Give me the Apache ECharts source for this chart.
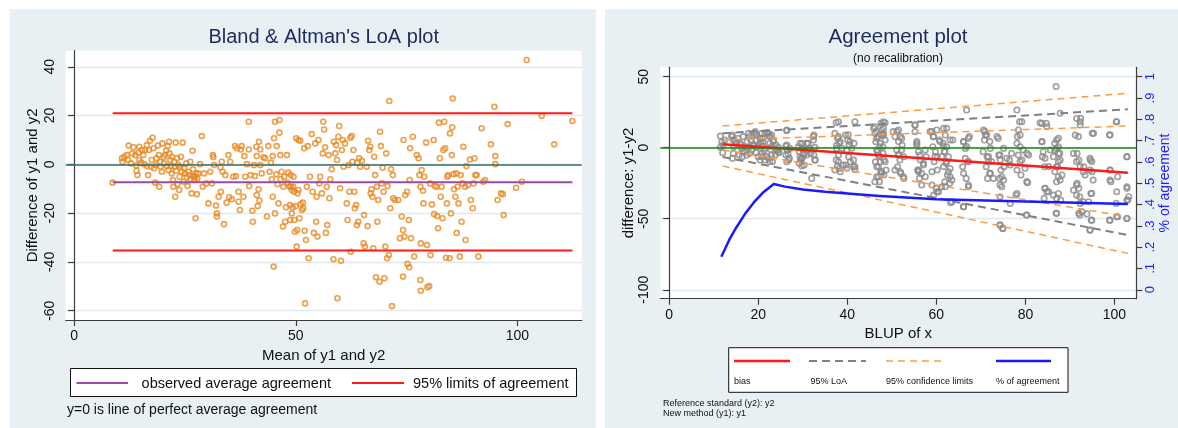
<!DOCTYPE html>
<html>
<head>
<meta charset="utf-8">
<script src="https://cdn.jsdelivr.net/npm/echarts@6.0.0/dist/echarts.min.js"></script>
<style>
  html, body { margin: 0; padding: 0; background: #fff; }
  #chart { width: 1178px; height: 428px; }
</style>
</head>
<body>
<div id="chart"></div>
<script>
/* === Data: Bland & Altman (mean of y1,y2 vs difference) === */
const baMean = [
  8.7, 10.8, 10.9, 11.3, 11.9, 12.2, 12.3, 12.8, 13.1, 13.4, 13.8, 14.0, 14.1, 14.3, 14.5, 14.7, 14.7, 15.1, 15.3, 15.6,
  15.8, 16.0, 16.4, 16.4, 16.7, 16.9, 17.1, 17.3, 17.5, 17.7, 17.9, 18.0, 18.3, 18.5, 18.6, 18.9, 19.1, 19.2, 19.4, 19.5,
  19.8, 19.9, 20.2, 20.3, 20.5, 20.8, 20.9, 21.1, 21.3, 21.4, 21.5, 21.7, 21.8, 22.0, 22.1, 22.3, 22.4, 22.6, 22.7, 22.8,
  22.9, 23.0, 23.2, 23.3, 23.5, 23.7, 23.8, 23.9, 24.1, 24.3, 24.5, 24.7, 24.8, 25.0, 25.3, 25.4, 25.6, 25.8, 26.0, 26.2,
  26.3, 26.5, 26.7, 26.8, 26.9, 27.1, 27.3, 27.4, 27.5, 27.7, 27.8, 28.0, 28.4, 28.8, 29.0, 29.3, 29.8, 30.3, 30.7, 31.1,
  31.3, 31.4, 31.6, 32.0, 32.2, 32.2, 32.6, 33.0, 33.1, 33.3, 33.5, 33.8, 34.1, 34.4, 34.8, 35.0, 35.2, 35.6, 35.9, 36.3,
  36.5, 36.7, 37.1, 37.1, 37.4, 37.6, 37.8, 38.2, 38.4, 38.6, 39.0, 39.4, 39.4, 39.5, 39.8, 40.2, 40.3, 40.6, 40.8, 41.1,
  41.2, 41.2, 41.4, 41.6, 41.7, 41.8, 42.0, 42.0, 42.3, 42.7, 43.1, 43.5, 43.8, 44.1, 44.4, 44.6, 44.8, 44.8, 45.0, 45.1,
  45.3, 45.3, 45.6, 45.7, 45.9, 46.1, 46.3, 46.3, 46.5, 46.6, 46.8, 47.1, 47.2, 47.4, 47.6, 47.8, 48.0, 48.1, 48.3, 48.6,
  48.7, 48.9, 49.1, 49.3, 49.5, 49.7, 49.8, 50.1, 50.2, 50.6, 48.7, 49.1, 50.0, 50.3, 50.4, 50.6, 50.8, 51.0, 51.1, 51.4,
  51.6, 51.7, 51.9, 52.0, 52.1, 52.3, 52.5, 52.7, 52.9, 53.2, 53.6, 53.8, 54.1, 54.4, 54.6, 54.7, 54.9, 55.1, 55.3, 55.5,
  55.9, 56.1, 56.2, 56.4, 56.6, 56.8, 57.0, 57.1, 57.4, 57.6, 57.8, 58.1, 58.5, 58.6, 58.9, 59.1, 59.3, 59.4, 59.6, 59.8,
  60.0, 60.2, 60.4, 60.6, 60.8, 61.1, 61.5, 61.7, 61.9, 62.1, 62.3, 62.4, 62.6, 62.8, 63.0, 63.2, 63.3, 63.6, 63.8, 63.9,
  64.1, 64.3, 64.5, 64.9, 65.3, 65.4, 65.6, 66.0, 66.2, 66.3, 66.6, 66.8, 66.9, 67.1, 67.3, 67.5, 67.7, 67.9, 68.1, 68.3,
  68.4, 68.6, 68.9, 69.0, 69.2, 69.4, 69.6, 69.8, 70.0, 70.2, 70.4, 70.6, 70.7, 71.0, 71.1, 71.3, 71.5, 71.7, 71.9, 72.0,
  72.4, 73.1, 73.5, 73.9, 74.2, 74.2, 74.3, 74.5, 74.7, 75.1, 75.2, 75.5, 75.6, 75.7, 75.8, 76.0, 76.4, 76.7, 77.3, 77.7,
  77.9, 78.1, 78.2, 78.1, 78.2, 78.4, 78.7, 78.8, 79.0, 79.4, 79.6, 79.7, 80.1, 80.3, 80.4, 80.7, 81.1, 81.2, 81.4, 81.8,
  81.9, 82.1, 82.3, 82.5, 82.7, 82.9, 83.1, 83.3, 83.5, 83.7, 83.9, 84.1, 84.2, 84.4, 84.7, 84.8, 85.0, 85.2, 85.3, 85.4,
  85.6, 85.7, 86.0, 86.2, 86.3, 86.5, 86.7, 87.0, 87.2, 87.4, 87.6, 87.8, 88.2, 88.3, 88.5, 88.9, 89.3, 89.5, 89.9, 90.1,
  90.3, 90.5, 90.8, 91.2, 91.9, 92.3, 92.7, 94.0, 94.8, 95.0, 95.0, 95.5, 96.3, 96.7, 96.9, 97.8, 99.7, 101.0, 102.1, 105.5,
  108.3, 112.4, 48.9, 49.4, 49.6
];
const baDiff = [
  -7.5, 2.5, 1.1, 3.1, 3.8, 1.8, 7.7, 0.4, 4.5, 7.0, 3.8, -0.5, -2.6, -4.4, 4.8, 1.8, 7.2, 0.7, 5.9, 3.8,
  0.1, 5.9, 7.9, -0.7, -4.4, 5.9, 9.7, -1.0, 1.8, 10.9, 6.6, -1.6, -7.5, -0.3, 2.5, 7.7, 3.8, -9.2, 1.1, -1.0,
  -3.0, 8.6, 2.9, 0.4, 3.8, 5.6, -0.7, 7.5, -2.3, 9.3, 4.5, 1.8, -0.7, -3.7, 3.1, -6.4, -9.2, 1.1, -1.0, -13.3,
  8.9, -2.6, 2.5, -8.1, -0.3, -10.5, -5.1, -1.0, 3.1, -3.0, 8.9, -7.1, -1.6, -3.7, 0.4, -5.3, -8.9, -3.0, -4.4, 1.1,
  -6.1, -11.9, 5.6, -2.0, -4.8, -6.1, -5.1, -22.1, -3.7, -12.2, -5.7, -3.7, 0.1, 11.6, -9.2, -3.7, -7.8, -16.0, -3.0, -7.8,
  3.8, 2.9, -0.3, -16.9, -20.1, -21.4, -13.3, -1.2, -11.2, 1.1, -3.0, -24.5, -4.4, -15.7, 3.8, -13.5, 1.1, -14.3, -5.1, 7.5,
  -4.8, 6.6, -15.3, -11.2, -18.7, 6.1, 7.5, -13.3, 3.4, -5.1, 0.1, 6.1, 17.5, -8.9, -4.4, -19.0, -23.5, -0.3, -4.8, 7.2,
  3.4, -12.6, -17.1, -10.2, 9.3, -14.8, 6.1, -0.3, -3.7, 2.9, 2.5, -21.4, 7.5, -3.0, 0.7, -6.1, 3.4, -13.3, -41.9, 10.7,
  17.5, -20.1, -4.1, 7.5, -8.1, -16.0, 18.2, 13.0, 3.8, -6.1, -3.0, -25.5, -9.2, -5.1, -23.5, -17.6, 3.8, -7.5, -3.4, -9.2,
  -22.8, -4.4, -10.5, -17.6, -5.1, -22.8, -27.6, 10.7, -33.7, 10.0, -16.7, -20.1, -17.1, -26.9, -11.9, -10.5, -22.1, 9.7, -16.3, -18.7,
  -15.7, -18.0, 6.6, -27.2, -57.0, -31.0, -9.2, 7.5, -38.5, -5.1, 12.4, -11.2, -28.1, 8.6, -23.5, -13.3, -29.6, 10.0, -7.8, -5.1,
  -11.9, 4.5, 17.5, 14.3, 7.0, -28.1, -9.2, -24.9, 3.8, -13.9, -6.1, -2.0, -38.9, 9.3, 4.5, 7.9, 1.8, -54.9, 11.3, 15.7,
  -9.8, -39.5, 5.9, 10.0, -1.0, 8.6, -16.0, -22.8, -0.3, -11.2, 10.9, -35.8, 11.6, 1.1, 5.9, -11.2, -18.0, -16.7, -24.9, 0.7,
  -23.5, 2.5, -1.0, 1.5, -32.4, -20.8, -33.7, -1.0, -25.3, 9.7, 5.9, 7.2, -11.9, -10.2, -13.3, -34.4, 3.1, -4.4, -46.3, -9.2,
  -23.5, -14.6, -48.1, 13.4, 7.5, -7.8, -1.4, -11.2, -46.7, -33.7, 4.5, -38.5, -8.9, -37.2, 26.0, -18.0, -2.0, -58.1, -4.4, -13.9,
  -14.6, -14.6, -30.3, -21.4, -26.9, -46.0, 10.0, -29.6, -12.6, -11.2, -40.8, -22.8, -42.2, -6.4, 6.6, -30.3, 11.3, -37.8, 3.8, 2.5,
  -4.4, -9.2, -32.4, -47.4, -51.8, -2.3, -10.8, -16.0, -5.1, 8.9, -33.1, -50.4, -49.9, -7.8, -37.2, -16.4, 10.0, -20.4, -8.9, -9.2,
  -21.2, -26.2, 17.1, 2.5, -13.3, -9.2, -22.1, 5.9, 17.5, 6.6, -38.3, -16.0, -5.1, -4.4, -38.5, 12.7, -20.1, 3.8, 15.2, 27.0,
  -4.0, -10.2, -13.3, -3.7, -28.1, -9.2, -16.0, -37.8, -4.4, -23.5, -7.8, 7.2, -9.2, -31.0, -0.7, -8.5, 2.0, -14.6, -18.0, -7.8,
  2.5, -4.4, -4.4, -37.8, 14.8, -7.1, -6.4, 8.2, 23.6, 3.4, 0.1, -14.6, -11.9, -12.2, -20.8, 16.5, -9.6, -7.1, 42.8, 19.9,
  8.2, 17.8, -9.2, -9.2, -11.2
];
const baAvgDiff = -7.3;
const baLimits = [21.0, -35.3];
const baXTicks = [0, 50, 100];
const baYTicks = [-60, -40, -20, 0, 20, 40];

/* === Data: Agreement plot (BLUP of x vs difference y1-y2) === */
const blupX = [
  11.5, 11.8, 11.5, 12.1, 12.0, 12.5, 14.2, 14.4, 14.5, 14.4, 14.2, 15.0, 15.9, 16.3, 15.7, 16.6, 16.5, 17.5, 17.8, 18.0,
  17.4, 18.1, 19.3, 19.6, 19.0, 19.8, 19.5, 20.0, 20.8, 21.0, 21.1, 21.3, 20.8, 21.5, 20.5, 22.0, 22.5, 22.6, 22.8, 23.0,
  23.2, 22.3, 23.0, 23.4, 24.0, 24.3, 24.5, 24.7, 26.4, 26.2, 26.5, 26.7, 27.0, 26.4, 27.1, 29.0, 29.2, 29.4, 29.5, 29.8,
  29.9, 30.1, 30.3, 29.8, 29.2, 31.2, 31.6, 31.8, 32.0, 32.4, 32.5, 32.7, 32.7, 37.5, 38.0, 37.2, 37.8, 38.2, 37.6, 38.0,
  37.5, 37.8, 38.2, 38.4, 37.2, 39.6, 40.1, 40.4, 39.9, 40.3, 40.7, 39.7, 41.4, 41.7, 41.5, 41.7, 46.2, 46.6, 47.0, 46.4,
  47.3, 46.8, 47.2, 46.3, 47.0, 47.5, 46.6, 47.2, 48.1, 48.5, 48.0, 48.5, 48.2, 48.7, 48.5, 47.7, 48.1, 48.0, 48.2, 47.7,
  47.6, 50.3, 50.7, 51.1, 51.5, 51.8, 51.3, 52.2, 52.3, 52.0, 52.7, 51.5, 52.7, 50.7, 55.2, 55.6, 56.0, 56.4, 55.8, 56.7,
  56.2, 57.1, 57.5, 57.7, 59.0, 59.4, 59.2, 59.8, 60.2, 59.5, 60.0, 60.5, 60.2, 60.7, 59.4, 61.6, 62.0, 61.5, 62.3, 61.8,
  62.7, 62.2, 63.1, 62.5, 63.5, 63.0, 63.2, 63.7, 62.0, 66.1, 66.5, 66.8, 67.0, 65.9, 66.7, 67.2, 66.1, 67.4, 70.6, 71.0,
  70.8, 70.5, 71.4, 71.7, 71.2, 71.5, 72.1, 72.1, 73.6, 74.0, 74.3, 74.5, 74.2, 74.7, 74.3, 74.3, 74.9, 75.1, 75.2, 76.6,
  76.4, 76.9, 78.1, 78.7, 78.2, 78.8, 78.4, 79.2, 78.1, 79.0, 77.9, 80.2, 80.3, 80.5, 83.3, 83.7, 83.8, 84.3, 84.4, 84.8,
  84.8, 84.2, 85.6, 86.9, 87.0, 87.4, 87.7, 87.8, 87.2, 88.2, 87.8, 87.4, 86.9, 87.8, 86.6, 87.9, 91.2, 91.6, 92.0, 92.3,
  92.4, 91.6, 92.0, 92.2, 92.3, 92.7, 92.2, 93.1, 93.4, 93.8, 94.8, 95.0, 94.6, 95.0, 95.2, 94.7, 94.5, 94.2, 98.9, 99.0,
  99.2, 98.9, 100.4, 100.7, 100.4, 100.7, 102.8, 102.8, 103.0, 102.8, 103.2,
  14.0, 14.8, 15.5, 16.2, 17.0, 16.4, 17.8, 18.3, 18.9, 18.5, 19.6, 20.4, 21.1, 20.0, 21.5, 20.8, 20.4, 21.9, 19.3, 21.5,
  22.6, 23.4, 23.0, 24.1, 23.8, 24.5, 22.6, 22.3, 26.4, 26.5, 26.2, 26.8, 26.4, 29.4, 29.8, 30.2, 29.8, 30.3, 30.9, 31.3,
  30.9, 32.4, 32.5, 32.8, 38.0, 38.4, 37.6, 38.8, 38.0, 39.1, 39.9, 40.6, 41.0, 41.4, 40.2, 41.7, 45.9, 46.2, 46.6, 47.4,
  47.7, 48.1, 46.6, 47.0, 47.4, 46.6, 47.7, 47.0, 46.2, 48.1, 51.1, 51.9, 51.5, 52.2, 51.5, 51.9, 52.6, 55.2, 55.6, 56.0,
  55.2, 55.6, 56.3, 56.0, 57.1, 57.5, 56.7, 58.6, 59.3, 60.1, 60.8, 61.6, 61.9, 61.2, 62.3, 61.6, 62.7, 63.1, 61.9, 61.2,
  60.1, 59.0, 62.3, 63.1, 63.5, 59.7, 59.0, 66.1, 66.8, 67.2, 66.5, 67.2, 66.1, 67.2, 66.1, 70.9, 71.3, 72.0, 71.7, 72.4,
  72.0, 72.8, 73.9, 74.3, 74.7, 74.3, 75.1, 74.3, 74.9, 75.8, 76.6, 78.4, 78.8, 79.2, 78.1, 79.5, 80.7, 78.8, 79.9, 80.3,
  78.1, 80.3, 83.7, 84.0, 84.4, 85.2, 84.4, 85.2, 86.3, 87.0, 86.6, 87.0, 87.4, 86.3, 87.4, 87.0, 86.6, 87.4, 87.0, 87.4,
  87.0, 84.7, 83.7, 91.5, 92.3, 91.9, 90.8, 91.5, 92.3, 93.0, 94.5, 94.9, 94.5, 91.5, 90.8, 91.5, 93.0, 92.0, 94.9, 94.9,
  94.5, 95.3, 99.0, 100.5, 99.0, 99.0, 99.0, 100.5, 100.5, 102.8, 102.8, 102.8, 102.8
];
const agDiff = [
  8.2, 4.2, 0.3, 1.9, -3.5, 5.4, 8.9, 5.4, 0.7, -4.0, -7.5, 3.1, 3.1, -0.5, -5.2, 7.8, -2.8, 4.2, 0.3, 7.8,
  -5.2, -4.0, 11.3, 5.4, 1.2, 0.3, -3.5, -6.4, 10.1, 6.6, 1.2, -2.1, -6.4, -8.7, 4.2, 10.6, 8.2, 3.1, -1.2, -5.2,
  -9.9, -7.5, 8.9, 5.4, 1.9, -1.6, 0.3, -3.5, 12.0, 1.2, -1.6, -4.5, -7.5, -9.9, -0.5, 0.7, -2.8, -6.4, -8.7, -12.9,
  3.1, -1.2, -4.5, -7.5, -11.0, 3.1, -0.5, -4.0, -21.6, 5.4, 8.9, 0.3, -8.7, 17.6, 18.3, 10.1, 6.6, 3.1, -0.5, -5.2,
  -8.7, -12.9, -14.6, -16.9, -15.7, 8.9, 5.4, 1.9, -1.6, -6.4, -9.9, -12.2, -13.4, 18.3, 3.1, -15.3, 14.8, 11.3, 7.8, 4.2,
  0.7, -2.8, -6.4, -9.9, -13.4, -16.9, -20.4, -23.9, 10.1, 5.4, -4.0, -9.9, -19.2, -15.7, 17.6, 12.4, 8.9, 0.7, -8.7, -18.1,
  17.1, 11.3, 7.8, -1.6, -5.2, -8.7, -13.4, 6.6, 1.9, -18.1, -21.6, 12.4, -6.4, -15.7, 16.0, 3.1, -2.8, -8.7, -15.7, -18.1,
  -21.6, -11.0, -1.6, -6.4, 11.3, 7.8, 0.7, -2.8, -6.4, -9.9, -28.6, -31.0, -15.7, 5.4, -33.3, 13.6, 8.9, 3.1, 0.7, -2.8,
  -6.4, -11.0, -14.6, -19.2, -22.8, -25.1, -38.7, 5.4, -27.5, 4.2, -0.5, 26.5, -9.9, -13.4, -21.6, -27.5, -41.6, 7.8, 12.4, 8.9,
  5.4, -2.8, -6.4, -9.9, -13.4, -21.6, -18.1, -0.5, 7.8, -5.2, -8.7, -15.7, -21.6, -27.5, -34.5, -54.5, -56.8, -0.5, -13.4, -39.2,
  -8.7, -4.0, 26.5, 18.3, 7.8, 0.7, -5.2, -8.7, -15.7, -19.2, -33.3, -47.4, -4.0, -24.6, 17.6, 4.2, -6.4, -13.4, -28.6, -31.0,
  14.8, -35.7, -1.6, 43.0, 5.4, 0.7, -4.0, -8.7, -13.4, -19.2, -22.8, -32.2, -46.2, 24.2, -1.6, -36.9, 8.9, -4.0, -8.7, 16.0,
  20.7, -25.1, -28.6, -34.5, -39.2, -45.1, -47.4, -13.4, -19.2, -46.6, -51.1, 10.1, -8.7, -16.9, -22.8, -32.2, -58.0, -38.0, 8.9, -15.7,
  -23.9, -51.1, 18.3, -20.4, -39.2, -48.6, -6.4, -27.5, -36.9, -49.8, -34.5,
  7.8, 4.3, 6.6, 1.9, -2.8, -6.3, 10.1, 5.4, 1.9, -1.6, 8.9, 6.6, 4.3, 1.9, -0.4, -4.0, -8.7, -6.3, 10.1, 10.1,
  7.8, 4.3, 0.8, -1.6, -5.1, -2.8, -9.8, 10.1, 1.9, -1.6, -5.1, -8.7, 12.5, 3.1, -0.4, -4.0, -7.5, -12.2, 3.1, -1.6,
  -5.1, 7.8, -5.1, -8.7, 7.8, 4.3, 1.9, -0.4, -9.8, -12.2, -14.5, 4.3, -0.4, -8.7, 9.0, -13.3, 13.7, 10.1, 6.6, 3.1,
  9.0, 13.7, -1.6, -5.1, -9.8, -13.3, -16.9, -20.4, -24.0, 18.3, 11.3, 7.8, 4.3, -1.6, -5.1, -16.9, -20.4, 11.3, 4.3, -15.7,
  15.9, 1.9, -5.1, -16.9, -12.2, -20.4, -26.3, 11.3, 7.8, 12.5, 4.3, 0.8, -2.8, -6.3, -9.8, -13.3, -16.9, -20.4, -24.0, -27.5,
  -31.0, -26.3, 13.7, 5.4, -38.0, -6.3, -16.9, 4.3, 0.8, 6.6, -7.5, -9.8, -18.0, -26.3, -41.5, 11.3, 9.0, 4.3, -6.3, -9.8,
  -18.0, -21.6, 6.6, -5.1, -20.4, -26.3, -22.8, -54.5, -56.8, -7.5, -12.2, 12.5, 9.0, 18.3, 3.1, -1.6, -5.1, -9.8, -14.5, -23.9,
  -32.2, -47.4, 4.3, -2.8, -7.5, -13.3, -28.6, -31.0, -33.4, -35.7, 3.1, -0.4, -4.0, -6.3, -9.8, -13.3, -16.9, -20.4, -24.0, 6.6,
  -46.2, 17.1, 17.1, 20.6, 18.3, 7.8, -4.0, -9.8, -13.3, -16.9, -7.5, -9.8, -15.7, -26.3, -29.8, -33.4, -38.0, -46.2, -32.2, -51.0,
  -58.0, 10.1, 9.0, 18.3, -15.7, -22.8, -51.0, -31.0, -48.6, -6.3, -28.6, -36.9, -49.8
];
// straight reference lines, read at both ends of the BLUP range
const fitX = [12, 103];
const biasY = [2.5, -17.6];
const loaUpY = [10.1, 27.0];
const loaLowY = [-6.5, -61.5];
const ciUpOuterY = [15.3, 38.3];
const ciUpInnerY = [5.4, 15.3];
const ciLowInnerY = [-1.5, -48.6];
const ciLowOuterY = [-12.9, -74.4];
// % of agreement curve (right axis)
const pctX = [11.7, 12.5, 13.5, 15, 17, 19, 21, 23.5, 26, 30, 35, 40, 47.3, 60, 80, 103];
const pctY = [0.155, 0.19, 0.235, 0.29, 0.355, 0.41, 0.455, 0.496, 0.484, 0.471, 0.46, 0.452, 0.44, 0.425, 0.414, 0.403];
const agXTicks = [0, 20, 40, 60, 80, 100];
const agYTicks = [-100, -50, 0, 50];
const pctTicks = [0, .1, .2, .3, .4, .5, .6, .7, .8, .9, 1];

/* === Style === */
const FONT = "'Liberation Sans', Arial, sans-serif";
const PANEL = '#e8f0f3';
const GRIDLINE = '#e0eaee';
const AXIS = '#3c3c3c';
const NAVY = '#1c2a5c';

const zip = (xs, ys) => xs.map((x, i) => [x, ys[i]]);

function yAxisBase(extra) {
  return Object.assign({
    type: 'value',
    axisLine: { show: true, lineStyle: { color: AXIS, width: 1.2 } },
    axisTick: { show: true, length: 6, lineStyle: { color: AXIS, width: 1.2 } },
    splitLine: { show: true, lineStyle: { color: GRIDLINE, width: 1.3 } },
    axisLabel: { color: '#111', fontSize: 14, fontFamily: FONT, rotate: 90, margin: 9 },
    nameLocation: 'middle',
    nameTextStyle: { color: '#111', fontSize: 15, fontFamily: FONT }
  }, extra);
}
function xAxisBase(extra) {
  return Object.assign({
    type: 'value',
    axisLine: { show: true, onZero: false, lineStyle: { color: AXIS, width: 1.2 } },
    axisTick: { show: true, length: 6, lineStyle: { color: AXIS, width: 1.2 } },
    splitLine: { show: false },
    axisLabel: { color: '#111', fontSize: 14, fontFamily: FONT, margin: 9 },
    nameLocation: 'middle',
    nameTextStyle: { color: '#111', fontSize: 15, fontFamily: FONT }
  }, extra);
}
function fitLine(name, ys, color, width, dash) {
  return {
    name, type: 'line', xAxisIndex: 1, yAxisIndex: 1,
    data: zip(fitX, ys), symbol: 'none', silent: true, z: 4,
    lineStyle: { color, width, type: dash || 'solid' }
  };
}
const txt = (text, x, y, size, fill, align, extra) => Object.assign({
  type: 'text', x, y, silent: true,
  style: { text, font: `${size}px ${FONT}`, fill, align: align || 'left', verticalAlign: 'middle' }
}, extra || {});
const seg = (x1, x2, y, stroke, width, dash) => ({
  type: 'line', silent: true, shape: { x1, y1: y, x2, y2: y },
  style: { stroke, lineWidth: width, lineDash: dash || null }
});

const baXmin = Math.min(...baMean), baXmax = Math.max(...baMean);

const chart = echarts.init(document.getElementById('chart'));
chart.setOption({
  animation: false,
  backgroundColor: '#fff',
  graphic: [
    // panel backgrounds
    { type: 'rect', z: -10, silent: true, shape: { x: 9.5, y: 9.3, width: 586.5, height: 430 }, style: { fill: PANEL } },
    { type: 'rect', z: -10, silent: true, shape: { x: 605, y: 9.3, width: 580, height: 430 }, style: { fill: PANEL } },
    // titles
    txt("Bland & Altman's LoA plot", 323.7, 37, 20, NAVY, 'center'),
    txt('Agreement plot', 898, 37, 20.5, NAVY, 'center'),
    txt('(no recalibration)', 898, 58.5, 12, '#111', 'center'),
    // left legend
    { type: 'rect', silent: true, shape: { x: 70.5, y: 368.5, width: 506, height: 28 }, style: { fill: '#fff', stroke: '#111', lineWidth: 1 } },
    seg(76.5, 128, 383, '#9b4aa8', 2),
    txt('observed average agreement', 141.6, 383.5, 14.5, '#111'),
    seg(352, 404, 383, '#ff1a1a', 2),
    txt('95% limits of agreement', 413, 383.5, 14.5, '#111'),
    txt('y=0 is line of perfect average agreement', 67, 410.5, 14, '#111'),
    // right legend
    { type: 'rect', silent: true, shape: { x: 728.7, y: 347.7, width: 339.3, height: 44.6 }, style: { fill: '#fff', stroke: '#111', lineWidth: 1 } },
    seg(734, 790, 361, '#ff1a1a', 2.5),
    seg(809, 866, 361, '#808080', 2, [8, 5]),
    seg(886, 942.5, 361, '#ff9a40', 1.6, [7, 5]),
    seg(996, 1051, 361, '#1a1aff', 2.5),
    txt('bias', 734, 382, 9, '#111'),
    txt('95% LoA', 810.5, 382, 9, '#111'),
    txt('95% confidence limits', 886, 382, 9, '#111'),
    txt('% of agreement', 996, 382, 9, '#111'),
    txt('Reference standard (y2): y2', 663, 404, 9, '#111'),
    txt('New method (y1): y1', 663, 413.3, 9, '#111')
  ],
  grid: [
    { left: 65.7, top: 50.7, width: 516, height: 269.3, show: true, backgroundColor: '#fff', borderWidth: 0 },
    { left: 660.3, top: 67.3, width: 476, height: 231.4, show: true, backgroundColor: '#fff', borderWidth: 0 }
  ],
  xAxis: [
    xAxisBase({
      gridIndex: 0, min: -1.9, max: 114.5,
      axisTick: { show: true, length: 6, customValues: baXTicks, lineStyle: { color: AXIS, width: 1.2 } },
      axisLabel: { color: '#111', fontSize: 14, fontFamily: FONT, margin: 9, customValues: baXTicks },
      name: 'Mean of y1 and y2', nameGap: 24
    }),
    xAxisBase({
      gridIndex: 1, min: -2, max: 104.9,
      axisTick: { show: true, length: 6, customValues: agXTicks, lineStyle: { color: AXIS, width: 1.2 } },
      axisLabel: { color: '#111', fontSize: 14, fontFamily: FONT, margin: 9, customValues: agXTicks },
      name: 'BLUP of x', nameGap: 25
    })
  ],
  yAxis: [
    yAxisBase({
      gridIndex: 0, min: -63.8, max: 46.6,
      axisTick: { show: true, length: 6, customValues: baYTicks, lineStyle: { color: AXIS, width: 1.2 } },
      axisLabel: { color: '#111', fontSize: 14, fontFamily: FONT, rotate: 90, margin: 9, customValues: baYTicks },
      name: 'Difference of y1 and y2', nameGap: 25
    }),
    yAxisBase({
      gridIndex: 1, min: -106.3, max: 56.6,
      axisTick: { show: true, length: 6, customValues: agYTicks, lineStyle: { color: AXIS, width: 1.2 } },
      axisLabel: { color: '#111', fontSize: 14, fontFamily: FONT, rotate: 90, margin: 9, customValues: agYTicks },
      name: 'difference: y1-y2', nameGap: 21
    }),
    yAxisBase({
      gridIndex: 1, position: 'right', min: -0.042, max: 1.044,
      splitLine: { show: false },
      axisTick: { show: true, length: 6, customValues: pctTicks, lineStyle: { color: AXIS, width: 1.2 } },
      axisLabel: {
        color: '#2020ff', fontSize: 13, fontFamily: FONT, rotate: 90, margin: 8, customValues: pctTicks,
        formatter: v => (v === 0 || v === 1) ? String(v) : String(+v.toFixed(1)).replace(/^0/, '')
      },
      name: '% of agreement', nameGap: 22,
      nameTextStyle: { color: '#2020ff', fontSize: 14, fontFamily: FONT }
    })
  ],
  series: [
    {
      name: 'Bland-Altman', type: 'scatter', xAxisIndex: 0, yAxisIndex: 0,
      data: zip(baMean, baDiff), symbol: 'circle', symbolSize: 5, silent: true,
      itemStyle: { color: 'rgba(0,0,0,0)', borderColor: '#e8871e', borderWidth: 1.6 },
      markLine: {
        silent: true, symbol: 'none', label: { show: false },
        lineStyle: { color: '#2f6f6a', width: 1.6, type: 'solid' },
        data: [{ yAxis: 0 }]
      }
    },
    {
      name: 'observed average agreement', type: 'line', xAxisIndex: 0, yAxisIndex: 0,
      data: [[baXmin, baAvgDiff], [baXmax, baAvgDiff]], symbol: 'none', silent: true,
      lineStyle: { color: '#9b4aa8', width: 2 }
    },
    {
      name: '95% limits of agreement', type: 'line', xAxisIndex: 0, yAxisIndex: 0,
      data: [[baXmin, baLimits[0]], [baXmax, baLimits[0]]], symbol: 'none', silent: true,
      lineStyle: { color: '#ff1a1a', width: 2 }
    },
    {
      name: '95% limits of agreement (lower)', type: 'line', xAxisIndex: 0, yAxisIndex: 0,
      data: [[baXmin, baLimits[1]], [baXmax, baLimits[1]]], symbol: 'none', silent: true,
      lineStyle: { color: '#ff1a1a', width: 2 }
    },
    {
      name: 'Agreement', type: 'scatter', xAxisIndex: 1, yAxisIndex: 1,
      data: zip(blupX, agDiff), symbol: 'circle', symbolSize: 5.4, silent: true,
      itemStyle: { color: 'rgba(0,0,0,0)', borderColor: '#8a8a8a', borderWidth: 1.7 },
      markLine: {
        silent: true, symbol: 'none', label: { show: false },
        lineStyle: { color: '#118811', width: 1.6, type: 'solid' },
        data: [{ yAxis: 0 }]
      }
    },
    fitLine('95% confidence limits', ciUpOuterY, '#ff9a40', 1.5, [7, 5]),
    fitLine('95% confidence limits 2', ciUpInnerY, '#ff9a40', 1.5, [7, 5]),
    fitLine('95% confidence limits 3', ciLowInnerY, '#ff9a40', 1.5, [7, 5]),
    fitLine('95% confidence limits 4', ciLowOuterY, '#ff9a40', 1.5, [7, 5]),
    fitLine('95% LoA', loaUpY, '#808080', 2, [8, 5]),
    fitLine('95% LoA lower', loaLowY, '#808080', 2, [8, 5]),
    fitLine('bias', biasY, '#ff1a1a', 2.5),
    {
      name: '% of agreement', type: 'line', xAxisIndex: 1, yAxisIndex: 2,
      data: zip(pctX, pctY), symbol: 'none', smooth: false, silent: true, z: 5,
      lineStyle: { color: '#1a1aff', width: 2.5, join: 'round' }
    }
  ]
});
</script>
</body>
</html>
